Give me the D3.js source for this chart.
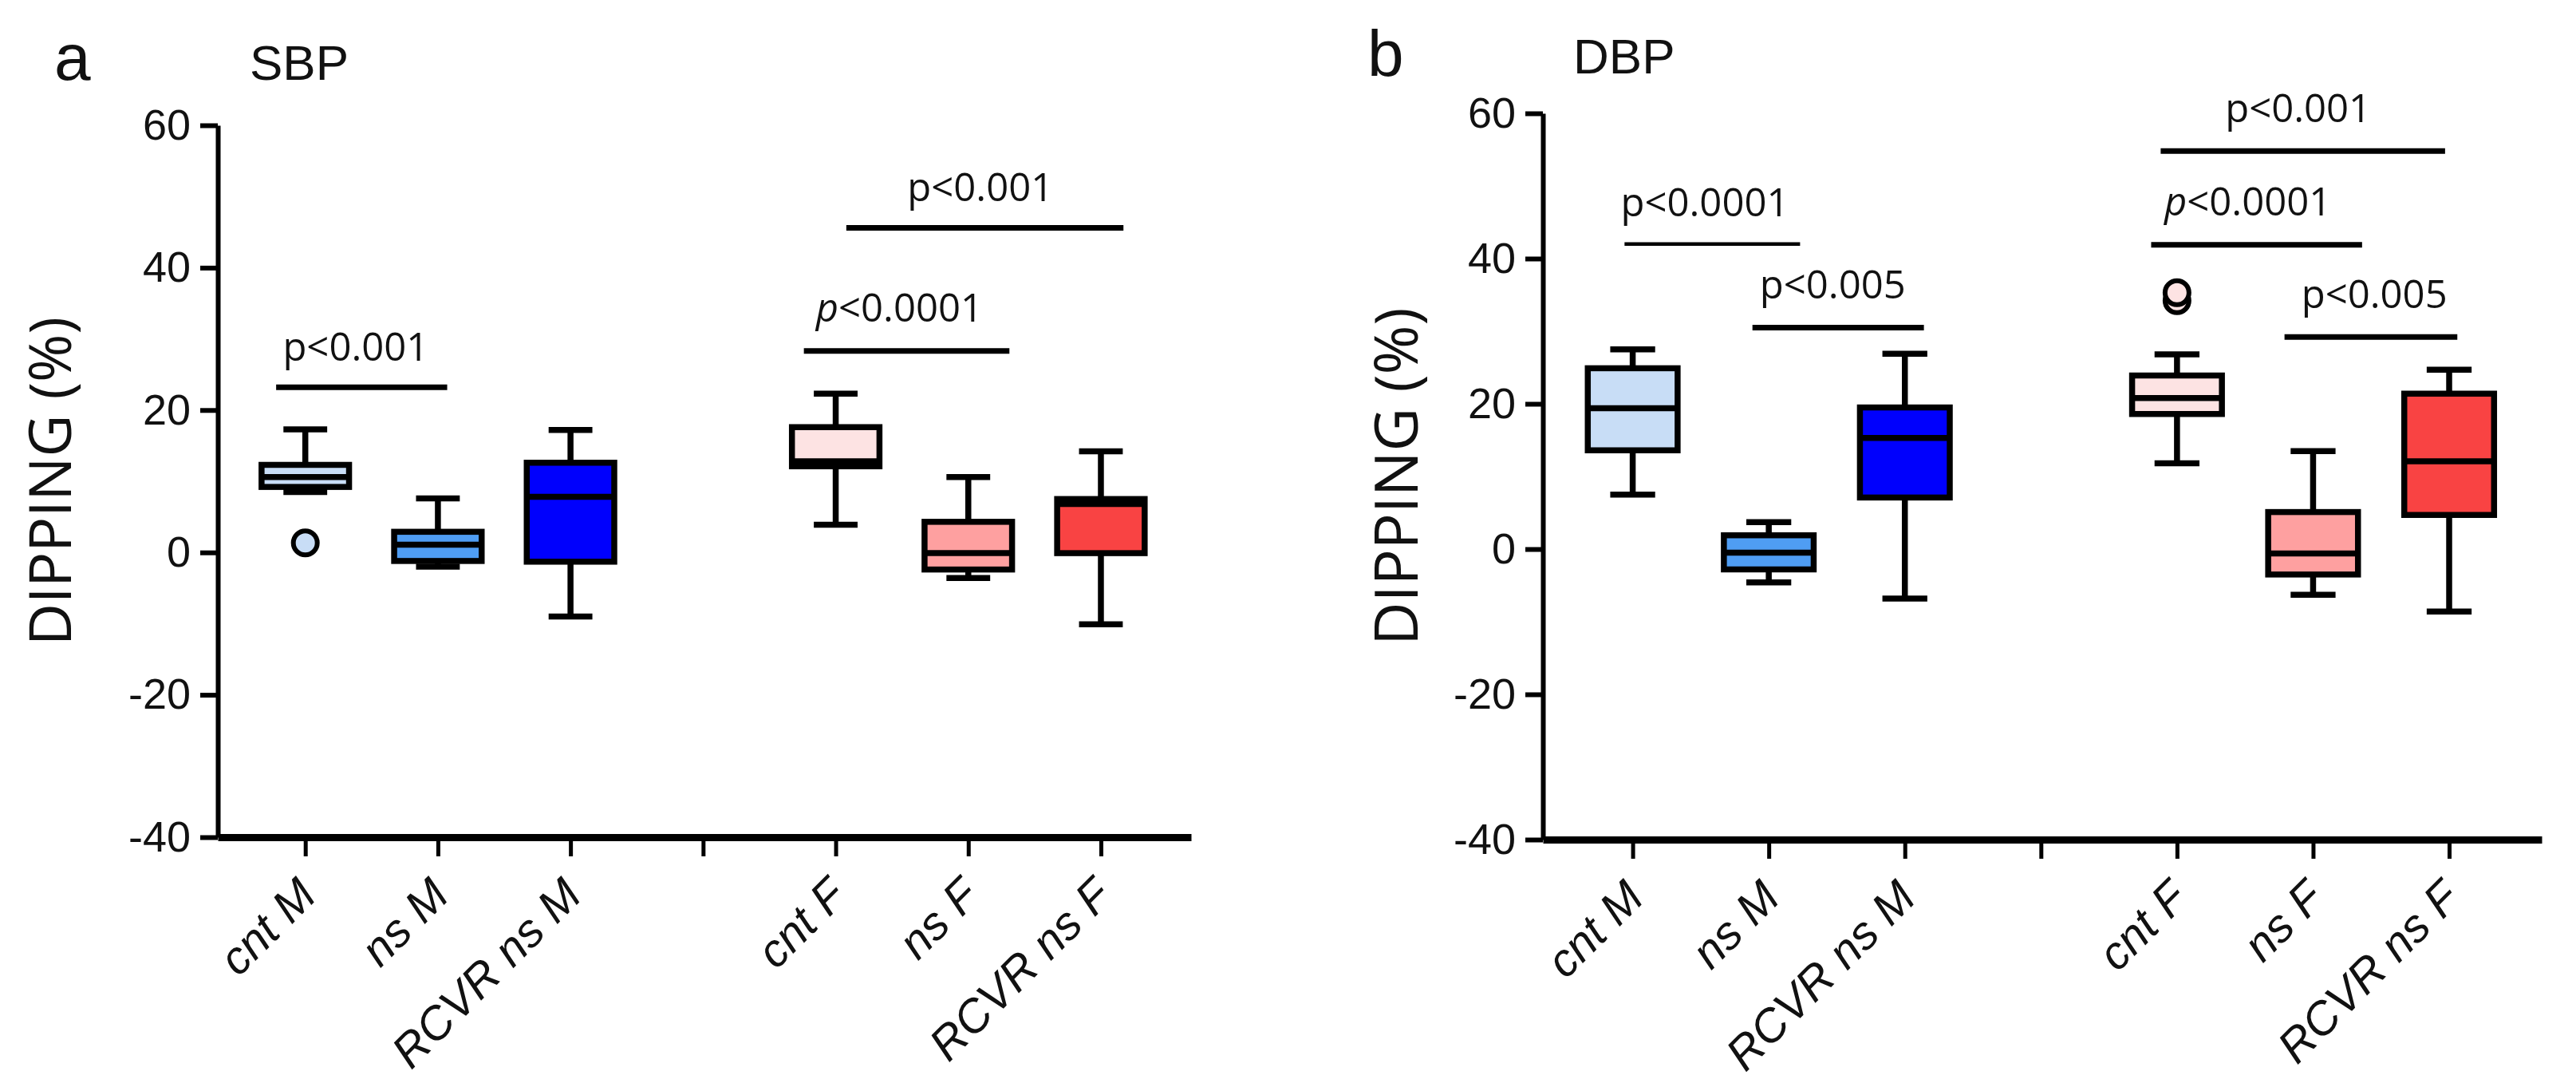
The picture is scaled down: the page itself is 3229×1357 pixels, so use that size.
<!DOCTYPE html>
<html>
<head>
<meta charset="utf-8">
<script src="https://cdn.jsdelivr.net/npm/d3@7"></script>
<style>
  html, body { margin: 0; padding: 0; background: #fff; }
  svg { display: block; }
</style>
</head>
<body>
<svg id="chart" width="3229" height="1357"></svg>
<script>
// ---------- DATA ----------
const categories = ["cnt M", "ns M", "RCVR ns M", "cnt F", "ns F", "RCVR ns F"];
const catPositions = [1, 2, 3, 5, 6, 7];
const tickPositions = [1, 2, 3, 4, 5, 6, 7];
const yTicks = [-40, -20, 0, 20, 40, 60];
const yTickLabels = ["-40", "-20", "0", "20", "40", "60"];
const colors = ["#c8ddf6", "#4f9df3", "#0000fd", "#fde3e3", "#fea0a0", "#f94343"];

// SBP box stats: [min, q1, median, q3, max]
const sbpMin    = [8.5, -2.0, -9.0, 3.9, -3.6, -10.1];
const sbpQ1     = [9.2, -1.2, -1.3, 12.1, -2.4, -0.1];
const sbpMedian = [10.6, 1.1, 7.8, 12.8, -0.1, 6.8];
const sbpQ3     = [12.3, 2.9, 12.6, 17.6, 4.3, 7.5];
const sbpMax    = [17.3, 7.6, 17.2, 22.3, 10.6, 14.2];
const sbpOutliers = [{cat: 0, v: 1.35}];

// DBP box stats
const dbpMin    = [7.5, -4.6, -6.8, 11.8, -6.3, -8.6];
const dbpQ1     = [13.6, -2.8, 7.1, 18.6, -3.5, 4.7];
const dbpMedian = [19.4, -0.5, 15.3, 20.8, -0.6, 12.1];
const dbpQ3     = [24.9, 1.9, 19.5, 23.9, 5.1, 21.4];
const dbpMax    = [27.5, 3.7, 26.9, 26.8, 13.5, 24.7];
const dbpOutliers = [{cat: 3, v: 34.2}, {cat: 3, v: 35.3}];

// significance annotations: x1, x2 (category units), line level, text x, text level, label
const sbpSig = [
  {x1: 0.78, x2: 2.07, y: 23.2, tx: 1.38, ty: 26.9, label: "p<0.001", italic: false, w: 7},
  {x1: 4.76, x2: 6.31, y: 28.3, tx: 5.48, ty: 32.4, label: "p<0.0001", italic: true, w: 7},
  {x1: 5.08, x2: 7.17, y: 45.6, tx: 6.09, ty: 49.4, label: "p<0.001", italic: false, w: 7}
];
const dbpSig = [
  {x1: 0.94, x2: 2.23, y: 42.0, tx: 1.53, ty: 45.8, label: "p<0.0001", italic: false, w: 4.5},
  {x1: 1.88, x2: 3.14, y: 30.5, tx: 2.47, ty: 34.5, label: "p<0.005", italic: false, w: 7},
  {x1: 4.88, x2: 6.97, y: 54.8, tx: 5.89, ty: 58.8, label: "p<0.001", italic: false, w: 7},
  {x1: 4.81, x2: 6.36, y: 41.9, tx: 5.52, ty: 45.9, label: "p<0.0001", italic: true, w: 7},
  {x1: 5.79, x2: 7.06, y: 29.2, tx: 6.45, ty: 33.2, label: "p<0.005", italic: false, w: 7}
];

// ---------- DRAW ----------
const svg = d3.select("#chart");
svg.append("rect").attr("width", 3229).attr("height", 1357).attr("fill", "#fff");

const tickFont = "'Liberation Sans', Arial, sans-serif";
const pFont = "'Open Sans', 'Noto Sans', sans-serif";

function panel(opts) {
  const x = d3.scaleLinear().domain([0.34, 7.68]).range([opts.left, opts.right]);
  const y = d3.scaleLinear().domain([-40, 60]).range([opts.bottom, opts.top]);
  const g = svg.append("g");

  // panel letter and title
  g.append("text").attr("x", opts.letterX).attr("y", opts.letterY)
    .attr("font-family", tickFont).attr("font-size", 82).attr("fill", "#111").text(opts.letter);
  g.append("text").attr("x", opts.titleX).attr("y", opts.titleY)
    .attr("font-family", tickFont).attr("font-size", 62).attr("fill", "#111").text(opts.title);

  // y axis
  const yAxis = d3.axisLeft(y).tickValues(yTicks).tickSize(22).tickSizeOuter(0).tickPadding(12)
    .tickFormat((d, i) => yTickLabels[i]);
  const ya = g.append("g").attr("transform", `translate(${opts.left},0)`).call(yAxis);
  ya.select(".domain").attr("stroke", "#000").attr("stroke-width", 6);
  ya.selectAll(".tick line").attr("stroke", "#000").attr("stroke-width", 6);
  ya.selectAll(".tick text").attr("font-family", tickFont).attr("font-size", 54).attr("fill", "#111");

  // x axis
  const labelMap = {};
  catPositions.forEach((p, i) => labelMap[p] = categories[i]);
  const xAxis = d3.axisBottom(x).tickValues(tickPositions).tickSize(24).tickSizeOuter(0)
    .tickFormat(d => labelMap[d] || "");
  const xa = g.append("g").attr("transform", `translate(0,${opts.bottom})`).call(xAxis);
  xa.select(".domain").attr("stroke", "#000").attr("stroke-width", 9);
  xa.selectAll(".tick line").attr("stroke", "#000").attr("stroke-width", 5);
  xa.selectAll(".tick text")
    .attr("font-family", tickFont).attr("font-size", 58).attr("font-style", "italic").attr("fill", "#111")
    .attr("text-anchor", "end").attr("dy", 0).attr("y", 0)
    .attr("transform", "translate(16,76) rotate(-45)");

  // y axis title
  g.append("text")
    .attr("transform", `translate(${opts.yTitleX},${(y(60) + y(-40)) / 2}) rotate(-90)`)
    .attr("text-anchor", "middle")
    .attr("font-family", pFont).attr("font-size", opts.yTitleSize).attr("fill", "#111")
    .text("DIPPING (%)");

  const bw = x(1.33) - x(1);
  const cw = x(1.165) - x(1);
  const sw = 7.5;

  categories.forEach((c, i) => {
    const cx = x(catPositions[i]);
    const gg = g.append("g");
    // whiskers
    gg.append("line").attr("x1", cx).attr("x2", cx)
      .attr("y1", y(opts.max[i])).attr("y2", y(opts.q3[i]))
      .attr("stroke", "#000").attr("stroke-width", sw);
    gg.append("line").attr("x1", cx).attr("x2", cx)
      .attr("y1", y(opts.q1[i])).attr("y2", y(opts.min[i]))
      .attr("stroke", "#000").attr("stroke-width", sw);
    [opts.max[i], opts.min[i]].forEach(v => {
      gg.append("line").attr("x1", cx - cw).attr("x2", cx + cw)
        .attr("y1", y(v)).attr("y2", y(v))
        .attr("stroke", "#000").attr("stroke-width", sw);
    });
    // box
    gg.append("rect").attr("x", cx - bw).attr("width", 2 * bw)
      .attr("y", y(opts.q3[i])).attr("height", y(opts.q1[i]) - y(opts.q3[i]))
      .attr("fill", colors[i]).attr("stroke", "#000").attr("stroke-width", sw);
    gg.append("line").attr("x1", cx - bw).attr("x2", cx + bw)
      .attr("y1", y(opts.median[i])).attr("y2", y(opts.median[i]))
      .attr("stroke", "#000").attr("stroke-width", sw);
  });

  // outliers
  opts.outliers.forEach(o => {
    g.append("circle").attr("cx", x(catPositions[o.cat])).attr("cy", y(o.v)).attr("r", 15)
      .attr("fill", colors[o.cat]).attr("stroke", "#000").attr("stroke-width", 6);
  });

  // significance
  opts.sig.forEach(s => {
    g.append("line").attr("x1", x(s.x1)).attr("x2", x(s.x2))
      .attr("y1", y(s.y)).attr("y2", y(s.y))
      .attr("stroke", "#000").attr("stroke-width", s.w);
    const t = g.append("text").attr("x", x(s.tx)).attr("y", y(s.ty))
      .attr("text-anchor", "middle").attr("font-family", pFont).attr("font-size", 49).attr("fill", "#111");
    if (s.italic) {
      t.append("tspan").attr("font-style", "italic").text(s.label.slice(0, 1));
      t.append("tspan").text(s.label.slice(1));
    } else {
      t.text(s.label);
    }
  });
}

panel({
  left: 273, right: 1493, top: 157, bottom: 1049,
  letter: "a", letterX: 68, letterY: 100, title: "SBP", titleX: 313, titleY: 100,
  yTitleX: 89, yTitleSize: 73,
  min: sbpMin, q1: sbpQ1, median: sbpMedian, q3: sbpQ3, max: sbpMax,
  outliers: sbpOutliers, sig: sbpSig
});
panel({
  left: 1934, right: 3186, top: 142, bottom: 1052,
  letter: "b", letterX: 1714, letterY: 95, title: "DBP", titleX: 1972, titleY: 92,
  yTitleX: 1777, yTitleSize: 75,
  min: dbpMin, q1: dbpQ1, median: dbpMedian, q3: dbpQ3, max: dbpMax,
  outliers: dbpOutliers, sig: dbpSig
});
</script>
</body>
</html>
